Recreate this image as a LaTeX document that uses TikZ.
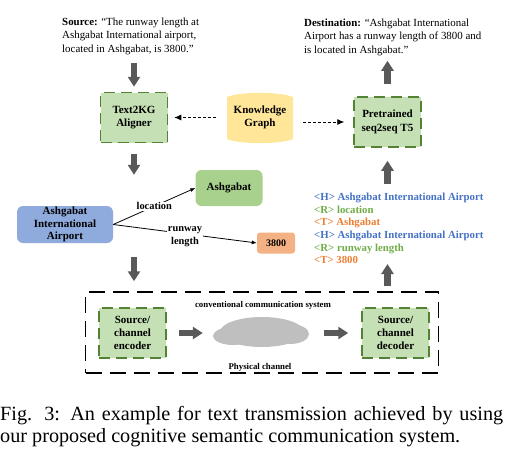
\documentclass[tikz,border=0pt]{standalone}
\usepackage{fontspec}
\setmainfont{Liberation Serif}
\usetikzlibrary{arrows.meta}
\definecolor{boxgreen}{HTML}{C5E0B4}
\definecolor{edgegreen}{HTML}{548235}
\definecolor{kgyellow}{HTML}{FFE699}
\definecolor{headblue}{HTML}{8FAADC}
\definecolor{tailgreen}{HTML}{A9D18E}
\definecolor{tailorange}{HTML}{F4B183}
\definecolor{arrowgrey}{HTML}{595959}
\definecolor{cloudgrey}{HTML}{BFBFBF}
\definecolor{hcol}{HTML}{4472C4}
\definecolor{rcol}{HTML}{70AD47}
\definecolor{tcol}{HTML}{ED7D31}
\tikzset{
  quote/.style={anchor=west,align=left,inner sep=0pt,font=\fontsize{10.9}{13.6}\selectfont},
  module/.style={draw=edgegreen,fill=boxgreen,line width=1.5pt,dash pattern=on 11pt off 6pt,minimum width=67pt,minimum height=50pt,align=center,inner sep=0pt,font=\fontsize{11}{13.4}\selectfont\bfseries},
  entity/.style={rounded corners=6pt,align=center,inner sep=0pt,font=\fontsize{11}{12.8}\selectfont\bfseries},
  bigarrow/.style={draw=arrowgrey,line width=6.5pt,-{Triangle[width=12pt,length=10pt]}},
  kgarrow/.style={densely dashed,thick,-{Latex[length=7pt,width=6pt]}},
  relarrow/.style={thick,-{Latex[length=5pt,width=4pt]}},
  rellabel/.style={fill=white,inner sep=1pt,align=center,font=\fontsize{10.4}{13}\selectfont\bfseries},
  puff/.style={fill=cloudgrey}
}
\begin{document}
\begin{tikzpicture}[x=1pt,y=-1pt]
    \useasboundingbox (0,0) rectangle (510,463);
    % top row
    \node[quote] (source) at (62,36) {\textbf{Source:} ``The runway length at\\Ashgabat International airport,\\located in Ashgabat, is 3800.''};
    \node[quote] (destination) at (304,37) {\textbf{Destination:} ``Ashgabat International\\Airport has a runway length of 3800 and\\is located in Ashgabat.''};
    \node[module] (aligner) at (134,117.5) {Text2KG\\Aligner};
    \node[module] (t5) at (387.5,122) {Pretrained\\seq2seq T5};
    \fill[kgyellow] (227,97) .. controls (240,91.5) and (280,91.5) .. (293,97) -- (293,139) .. controls (280,144.5) and (240,144.5) .. (227,139) -- cycle;
    \node[minimum width=66pt,minimum height=50pt,align=center,inner sep=0pt,font=\fontsize{11}{13.4}\selectfont\bfseries] (kg) at (260,117.5) {Knowledge\\Graph};
    % triples
    \node[entity,fill=headblue,minimum width=96pt,minimum height=37pt] (head) at (65,224.5) {Ashgabat\\International\\Airport};
    \node[entity,fill=tailgreen,minimum width=67pt,minimum height=36pt] (city) at (229,188) {Ashgabat};
    \node[entity,fill=tailorange,rounded corners=3pt,minimum width=38pt,minimum height=21pt,font=\fontsize{10}{12}\selectfont\bfseries] (length) at (276,243) {3800};
    \node[anchor=west,align=left,inner sep=0pt,font=\fontsize{10.8}{12.6}\selectfont\bfseries] (triples) at (314,228.5) {%
      \textcolor{hcol}{<H> Ashgabat International Airport}\\
      \textcolor{rcol}{<R> location}\\
      \textcolor{tcol}{<T> Ashgabat}\\
      \textcolor{hcol}{<H> Ashgabat International Airport}\\
      \textcolor{rcol}{<R> runway length}\\
      \textcolor{tcol}{<T> 3800}};
    % channel
    \node[draw,line width=1.5pt,dash pattern=on 16pt off 8pt,minimum width=353pt,minimum height=81pt,inner sep=0pt] (system) at (262,332.5) {};
    \node[module] (encoder) at (132.5,333) {Source/\\channel\\encoder};
    \node[module] (decoder) at (395.5,333) {Source/\\channel\\decoder};
    \fill[puff] (262,332) ellipse (42 and 15);
    \fill[puff] (233,336) ellipse (20 and 9);
    \fill[puff] (290,334) ellipse (19 and 10);
    \fill[puff] (278,327) ellipse (16 and 8);
    \fill[puff] (245,330) ellipse (18 and 8);
    \node[minimum width=97pt,minimum height=30pt,inner sep=0pt] (cloud) at (261.5,335) {};
    \node[inner sep=0pt,font=\fontsize{8.8}{10}\selectfont\bfseries] (conv) at (263,305) {conventional communication system};
    \node[inner sep=0pt,font=\fontsize{8.8}{10}\selectfont\bfseries] (phys) at (260,367) {Physical channel};
    % caption
    \node[anchor=west,align=left,inner sep=0pt,font=\fontsize{20.2}{22}\selectfont] (caption) at (0,427) {\makebox[503pt][s]{Fig. 3: An example for text transmission achieved by using}\\our proposed cognitive semantic communication system.};
    % connectors
    \draw[bigarrow,shorten <=8pt,shorten >=5pt] (aligner.north |- source.south) -- (aligner.north);
    \draw[bigarrow,shorten <=11pt,shorten >=31pt] (aligner.south) -- (aligner.south |- head.north);
    \draw[bigarrow,shorten <=14pt,shorten >=10pt] (aligner.south |- head.south) -- (aligner.south |- system.north);
    \draw[bigarrow,shorten <=12pt,shorten >=5pt] (t5.north) -- (t5.north |- destination.south);
    \draw[bigarrow,shorten <=5pt] (t5.south |- system.north) -- (t5.south |- triples.south);
    \draw[bigarrow,shorten <=9pt,shorten >=13pt] (t5.south |- triples.north) -- (t5.south);
    \draw[kgarrow,shorten <=11pt,shorten >=6pt] (kg.west |- aligner.east) -- (aligner.east);
    \draw[kgarrow,shorten <=10pt,shorten >=9pt] (kg.east |- t5.west) -- (t5.west);
    \draw[relarrow] (head.east) -- (city.west) node[rellabel,midway] {location};
    \draw[relarrow] (head.east) -- (length.west) node[rellabel,midway,yshift=-3pt] {runway\\length};
    \draw[bigarrow,shorten <=12pt,shorten >=10pt] (encoder.east) -- (encoder.east -| cloud.west);
    \draw[bigarrow,shorten <=14pt,shorten >=13pt] (decoder.west -| cloud.east) -- (decoder.west);
\end{tikzpicture}
\end{document}
